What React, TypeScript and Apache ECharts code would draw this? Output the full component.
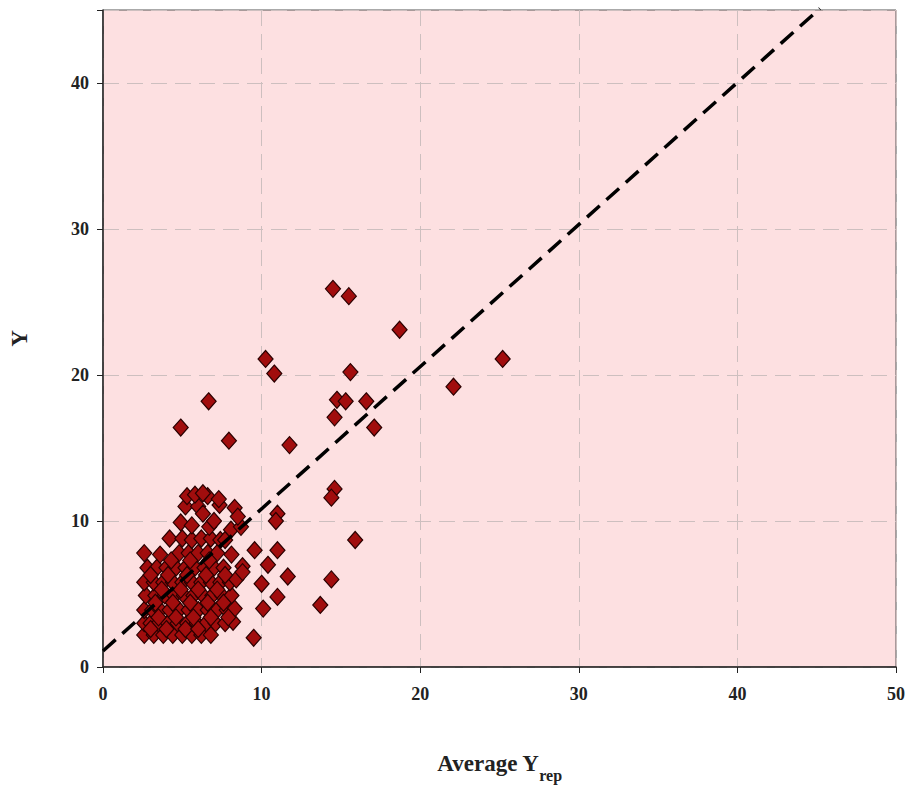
import React, { useEffect, useRef } from "react";
import * as echarts from "echarts";

const xTicks = [0, 10, 20, 30, 40, 50];
const yTicks = [0, 10, 20, 30, 40];

const outlierPoints: [number, number][] = [
  [14.5, 25.9], [15.5, 25.4], [18.7, 23.1], [10.25, 21.1], [10.8, 20.1], [15.6, 20.2],
  [6.66, 18.2], [4.9, 16.4], [7.94, 15.5], [11.76, 15.2], [14.75, 18.3], [15.3, 18.2],
  [16.6, 18.2], [14.6, 17.1], [17.1, 16.4], [14.6, 12.2], [14.4, 11.6], [14.4, 6.0],
  [13.7, 4.25], [15.9, 8.7], [25.2, 21.1], [22.1, 19.2],
  [11.0, 10.5], [10.9, 10.0], [9.56, 8.0], [11.0, 8.0], [10.4, 7.0], [11.65, 6.2],
  [10.0, 5.7], [11.0, 4.8], [10.1, 4.0], [9.5, 2.0], [8.8, 6.9], [8.8, 6.5],
];

const clusterPoints: [number, number][] = [
  [2.6, 2.2], [3.2, 2.2], [3.8, 2.2], [4.4, 2.2], [5.0, 2.2], [5.6, 2.2], [6.2, 2.2], [6.8, 2.2],
  [2.6, 3.0], [3.0, 3.0], [3.5, 3.0], [4.1, 3.0], [4.7, 3.0], [5.3, 3.0], [5.9, 3.0], [6.5, 3.0], [7.1, 3.0], [7.7, 3.0], [8.2, 3.1],
  [2.6, 3.9], [3.1, 3.9], [3.6, 3.9], [4.2, 3.9], [4.8, 3.9], [5.4, 3.9], [6.0, 3.9], [6.6, 3.9], [7.2, 3.9], [7.8, 3.9], [8.3, 4.0],
  [2.7, 4.9], [3.3, 4.9], [3.9, 4.9], [4.5, 4.9], [5.1, 4.9], [5.7, 4.9], [6.3, 4.9], [6.9, 4.9], [7.5, 4.9], [8.1, 4.9],
  [2.6, 5.8], [3.2, 5.8], [3.8, 5.8], [4.4, 5.8], [5.0, 5.8], [5.6, 5.8], [6.2, 5.8], [6.8, 5.8], [7.4, 5.8], [8.0, 5.8], [8.4, 6.0],
  [2.8, 6.8], [3.4, 6.8], [4.0, 6.8], [4.6, 6.8], [5.2, 6.8], [5.8, 6.8], [6.4, 6.8], [7.0, 6.8], [7.6, 6.8],
  [2.6, 7.8], [3.6, 7.7], [4.8, 7.8], [5.4, 7.8], [6.0, 7.8], [6.6, 7.8], [7.2, 7.8], [8.1, 7.7],
  [4.2, 8.8], [5.0, 8.8], [5.6, 8.7], [6.2, 8.8], [6.8, 8.8], [7.4, 8.7], [7.7, 8.7],
  [4.9, 9.9], [5.6, 9.7], [6.7, 9.6], [7.0, 10.0], [8.07, 9.4], [8.7, 9.6],
  [5.2, 11.0], [6.0, 11.0], [6.3, 10.5], [7.35, 11.1], [8.3, 10.9], [8.5, 10.3],
  [5.3, 11.7], [5.8, 11.8], [6.6, 11.7], [6.3, 11.9], [7.3, 11.5],
  [3.0, 2.6], [4.0, 2.6], [5.2, 2.6], [6.0, 2.6], [3.3, 4.4], [4.4, 4.4], [5.5, 4.4], [6.6, 4.4], [7.6, 4.4],
  [3.0, 6.3], [4.1, 6.3], [5.3, 6.3], [6.5, 6.3], [7.7, 6.3], [4.3, 7.3], [5.5, 7.3], [6.7, 7.3],
  [3.5, 3.4], [4.6, 3.4], [5.7, 3.4], [6.8, 3.4], [7.9, 3.4], [3.7, 5.3], [4.9, 5.3], [6.0, 5.3], [7.2, 5.3],
];

const fitLine: [number, number][] = [[0, 1.1], [45.2, 45.1]];

const serif = "'Liberation Serif', 'Times New Roman', serif";

export default function App() {
  const ref = useRef<HTMLDivElement>(null);
  useEffect(() => {
    document.body.style.margin = "0";
    const chart = echarts.init(ref.current!, null, { renderer: "svg" });
    chart.setOption({
      animation: false,
      backgroundColor: "#ffffff",
      grid: {
        left: 100,
        right: 12,
        top: 10,
        bottom: 127,
        show: true,
        backgroundColor: "#fde0e1",
        borderColor: "#555555",
        borderWidth: 1,
      },
      xAxis: {
        type: "value",
        min: xTicks[0],
        max: xTicks[xTicks.length - 1],
        interval: 10,
        name: "{a|Average Y}{b|rep}",
        nameLocation: "middle",
        nameGap: 76,
        nameTextStyle: {
          rich: {
            a: { fontFamily: serif, fontWeight: "bold", fontSize: 23, color: "#222" },
            b: { fontFamily: serif, fontWeight: "bold", fontSize: 16, color: "#222", padding: [24, 0, 0, 0] },
          },
        },
        axisLine: { onZero: false, lineStyle: { color: "#222", width: 1.5 } },
        axisTick: { show: true, length: 6, lineStyle: { color: "#222" } },
        axisLabel: { fontFamily: serif, fontWeight: "bold", fontSize: 18, color: "#222", margin: 18 },
        splitLine: { show: true, lineStyle: { color: "#cdbfbf", type: [16, 8], width: 1 } },
      },
      yAxis: {
        type: "value",
        min: yTicks[0],
        max: 45,
        interval: 10,
        name: "Y",
        nameLocation: "middle",
        nameGap: 72,
        nameRotate: 90,
        nameTextStyle: { fontFamily: serif, fontWeight: "bold", fontSize: 23, color: "#222" },
        axisLine: { onZero: false, lineStyle: { color: "#222", width: 1.5 } },
        axisTick: { show: true, length: 6, lineStyle: { color: "#222" } },
        axisLabel: {
          fontFamily: serif, fontWeight: "bold", fontSize: 18, color: "#222", margin: 14,
          formatter: (v: number) => (yTicks.includes(v) ? String(v) : ""),
        },
        splitLine: { show: true, lineStyle: { color: "#cdbfbf", type: [16, 8], width: 1 } },
      },
      series: [
        {
          type: "scatter",
          data: clusterPoints.concat(outlierPoints),
          symbol: "diamond",
          symbolSize: [15, 17],
          itemStyle: { color: "#a10d0d", borderColor: "#2a0000", borderWidth: 1.2, opacity: 1 },
          z: 3,
        },
        {
          type: "line",
          data: fitLine,
          symbol: "none",
          clip: false,
          lineStyle: { color: "#000", width: 3.5, type: [17, 9] },
          z: 4,
        },
      ],
    });
    return () => chart.dispose();
  }, []);
  return <div ref={ref} style={{ width: 908, height: 794 }} />;
}
